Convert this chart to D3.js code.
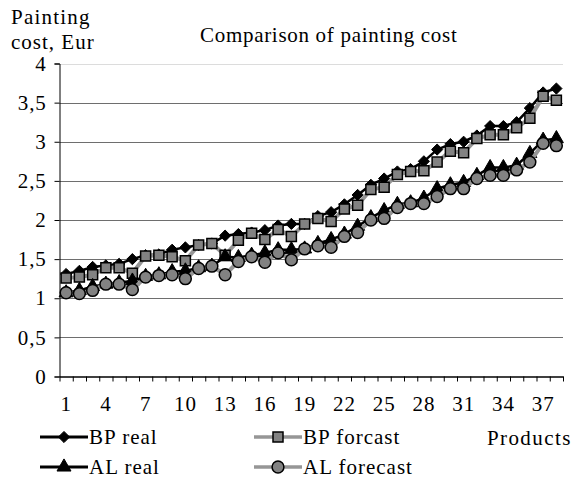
<!DOCTYPE html>
<html>
<head>
<meta charset="utf-8">
<script src="https://cdn.jsdelivr.net/npm/d3@7"></script>
<style>
body { margin: 0; background: #fff; }
svg text { font-family: "Liberation Serif", "DejaVu Serif", serif; fill: #000; }
</style>
</head>
<body>
<div id="holder"></div>
<script>
// products 1..38
const products = d3.range(1, 39);
const bpReal = [1.31, 1.35, 1.40, 1.42, 1.44, 1.50, 1.55, 1.56, 1.62, 1.65, 1.68, 1.70, 1.80, 1.82, 1.84, 1.87, 1.93, 1.95, 1.95, 2.05,
    2.10, 2.20, 2.32, 2.45, 2.53, 2.62, 2.65, 2.75, 2.90, 2.97, 3.00, 3.08, 3.20, 3.20, 3.25, 3.43, 3.63, 3.68];
const bpForecast = [1.26, 1.27, 1.30, 1.39, 1.39, 1.32, 1.54, 1.55, 1.53, 1.48, 1.68, 1.70, 1.55, 1.74, 1.83, 1.75, 1.88, 1.79, 1.95, 2.02,
    1.98, 2.14, 2.19, 2.39, 2.42, 2.58, 2.62, 2.63, 2.74, 2.88, 2.86, 3.04, 3.09, 3.09, 3.18, 3.30, 3.58, 3.53];
const alReal = [1.07, 1.10, 1.15, 1.18, 1.20, 1.22, 1.28, 1.30, 1.34, 1.35, 1.39, 1.41, 1.53, 1.52, 1.55, 1.58, 1.62, 1.62, 1.63, 1.70,
    1.75, 1.82, 1.92, 2.03, 2.12, 2.20, 2.22, 2.28, 2.40, 2.45, 2.48, 2.57, 2.67, 2.67, 2.70, 2.85, 3.02, 3.04];
const alForecast = [1.07, 1.06, 1.10, 1.18, 1.18, 1.11, 1.27, 1.29, 1.30, 1.25, 1.38, 1.41, 1.30, 1.47, 1.53, 1.46, 1.58, 1.49, 1.63, 1.67,
    1.65, 1.79, 1.84, 2.00, 2.02, 2.16, 2.21, 2.21, 2.30, 2.40, 2.40, 2.53, 2.57, 2.57, 2.64, 2.74, 2.98, 2.95];
const yTicks = [0, 0.5, 1, 1.5, 2, 2.5, 3, 3.5, 4];
const xLabels = [1, 4, 7, 10, 13, 16, 19, 22, 25, 28, 31, 34, 37];

const w = 582, h = 495;
const padL = 59.5, padR = 563, padT = 63.5, padB = 376.5;
const fs = "21px";

const series = [
    {name: "BP real", data: bpReal, line: "#000", width: 2.5, marker: "diamond"},
    {name: "BP forcast", data: bpForecast, line: "#969696", width: 4, marker: "square"},
    {name: "AL real", data: alReal, line: "#000", width: 2.5, marker: "triangle"},
    {name: "AL forecast", data: alForecast, line: "#969696", width: 4, marker: "circle"}
];

let svg = d3.select("#holder").append("svg").attr("width", w).attr("height", h);

let xScale = d3.scaleBand().domain(products).range([padL, padR]);
let xEdge = d3.scaleLinear().domain([0, products.length]).range([padL, padR]);
let yScale = d3.scaleLinear().domain([0, 4]).range([padB, padT]);

// gridlines
svg.append("g").selectAll("line")
    .data(yTicks.filter(d => d > 0))
    .enter().append("line")
    .attr("x1", padL).attr("x2", padR)
    .attr("y1", d => Math.round(yScale(d)) + 0.5)
    .attr("y2", d => Math.round(yScale(d)) + 0.5)
    .attr("stroke", d => d == 4 ? "#dcdcdc" : "#6e6e6e")
    .attr("stroke-width", 1);

// y axis
const yAxis = d3.axisLeft(yScale).tickValues(yTicks).tickSize(5).tickPadding(8)
    .tickFormat(d => String(d).replace(".", ","));
let yg = svg.append("g").attr("transform", "translate(" + padL + ",0)").call(yAxis);
yg.select(".domain").attr("stroke", "#000");
yg.selectAll("text").style("font-size", fs).attr("font-family", "Liberation Serif").style("letter-spacing", "0.8px");

// x axis ticks between categories
const xAxis = d3.axisBottom(xEdge).tickValues(d3.range(0, products.length + 1)).tickSize(5).tickSizeOuter(0).tickFormat("");
let xg = svg.append("g").attr("transform", "translate(0," + padB + ")").call(xAxis);
xg.select(".domain").attr("stroke", "#000").attr("stroke-width", 1.3);

// x labels
const xAxisLab = d3.axisBottom(xScale).tickValues(xLabels).tickSize(0).tickPadding(20);
let xl = svg.append("g").attr("transform", "translate(0," + padB + ")").call(xAxisLab);
xl.select(".domain").remove();
xl.selectAll("text").style("font-size", fs).attr("font-family", "Liberation Serif").style("letter-spacing", "0.8px");

function markerPath(type) {
    if (type == "diamond") return d3.symbol().type(d3.symbolDiamond2).size(80)();
    if (type == "square") return d3.symbol().type(d3.symbolSquare).size(100)();
    if (type == "triangle") return d3.symbol().type(d3.symbolTriangle).size(85)();
    return d3.symbol().type(d3.symbolCircle).size(110)();
}
function styleMarker(sel, s) {
    if (s.marker == "diamond" || s.marker == "triangle") {
        sel.attr("fill", "#000").attr("stroke", "#000").attr("stroke-width", 1);
    } else {
        sel.attr("fill", "#828282").attr("stroke", "#000").attr("stroke-width", 1.5);
    }
}

let valueLine = d3.line()
    .x((d, i) => xScale(products[i]) + xScale.bandwidth() / 2)
    .y(d => yScale(d));

series.forEach(s => {
    let g = svg.append("g");
    g.append("path")
        .attr("d", valueLine(s.data))
        .attr("fill", "none")
        .attr("stroke", s.line)
        .attr("stroke-width", s.width)
        .attr("stroke-linejoin", "round");
    let m = g.selectAll("path.mk")
        .data(s.data)
        .enter().append("path")
        .attr("class", "mk")
        .attr("d", markerPath(s.marker))
        .attr("transform", (d, i) => "translate(" + (xScale(products[i]) + xScale.bandwidth() / 2) + "," + yScale(d) + ")");
    styleMarker(m, s);
});

// titles
svg.append("text").attr("x", 200).attr("y", 42)
    .style("font-size", fs).style("letter-spacing", "0.7px").text("Comparison of painting cost");
svg.append("text").attr("x", 11).attr("y", 24).style("font-size", fs).style("letter-spacing", "1.2px").text("Painting");
svg.append("text").attr("x", 11).attr("y", 49).style("font-size", fs).style("letter-spacing", "1px").text("cost, Eur");
svg.append("text").attr("x", 487).attr("y", 445).style("font-size", fs).style("letter-spacing", "1.4px").text("Products");

// legend
const legendPos = [[40, 437], [254, 437], [40, 467], [254, 467]];
series.forEach((s, i) => {
    let lx = legendPos[i][0], ly = legendPos[i][1];
    let g = svg.append("g");
    g.append("line").attr("x1", lx).attr("x2", lx + 48).attr("y1", ly).attr("y2", ly)
        .attr("stroke", s.line).attr("stroke-width", s.width == 4 ? 3.5 : 3);
    let m = g.append("path").attr("d", markerPath(s.marker))
        .attr("transform", "translate(" + (lx + 24) + "," + ly + ")");
    styleMarker(m, s);
    g.append("text").attr("x", lx + 49).attr("y", ly + 7).style("font-size", fs)
        .style("letter-spacing", "1px").text(s.name);
});
</script>
</body>
</html>
